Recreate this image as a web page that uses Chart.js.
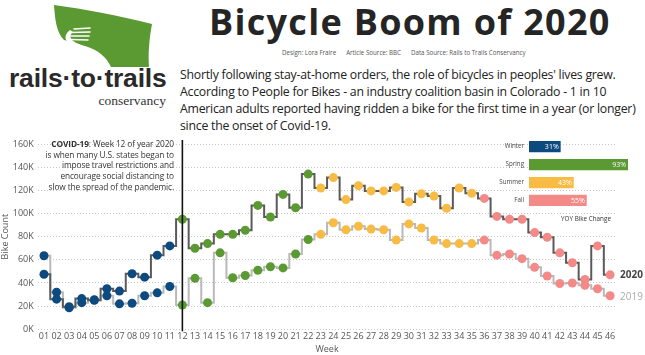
<!DOCTYPE html>
<html>
<head>
<meta charset="utf-8">
<script src="https://cdn.jsdelivr.net/npm/chart.js@4.4.0/dist/chart.umd.min.js"></script>
<style>
  html,body{margin:0;padding:0;background:#fff;}
  #wrap{position:relative;width:645px;height:355px;overflow:hidden;font-family:"Open Sans",sans-serif;}
  .abs{position:absolute;}
  #title{left:209px;top:0px;white-space:nowrap;font-weight:700;font-size:36px;color:#252525;line-height:44px;letter-spacing:1.3px;}
  #sub{left:282px;top:48px;white-space:nowrap;font-size:6.2px;color:#555;}
  #sub span{margin-right:10px;}
  #para{left:180px;top:66px;white-space:nowrap;font-size:12.3px;line-height:17px;color:#222;letter-spacing:-0.25px;}
  #covid{left:20px;width:154px;top:139px;text-align:right;font-size:8.3px;line-height:10.7px;color:#333;letter-spacing:-0.1px;}
  #yoy{left:546px;width:80px;top:214px;text-align:center;font-size:6.3px;color:#333;}
</style>
</head>
<body>
<div id="wrap">
  <svg class="abs" style="left:0;top:0" width="180" height="125" viewBox="0 0 180 125">
    <path d="M54,5 C85,9 120,16 152,24 C149,40 148,55 149,67 L106,67 C99,53 84,44 64,40 C56,32 55,18 54,5 Z" fill="#5b9a32"/>
    <path d="M70,30 C60,38 68,46 82,49 C96,53 102,60 104,67 L111,67 C107,58 99,50 85,46 C74,43 66,38 73,32 Z" fill="#fff"/>
    <g stroke="#fff" stroke-width="1.6" stroke-linecap="round">
      <line x1="74" y1="29" x2="90" y2="28"/>
      <line x1="71" y1="32.5" x2="90" y2="32"/>
      <line x1="70" y1="36" x2="89" y2="36"/>
      <line x1="71" y1="39.5" x2="88" y2="40"/>
    </g>
    <text x="9" y="87" font-family="Liberation Sans, Arial, sans-serif" font-weight="700" font-size="26.5" fill="#2a2a2a" letter-spacing="-0.2">rails·to·trails</text>
    <text x="166" y="105" text-anchor="end" font-family="Liberation Serif, serif" font-size="13.5" fill="#333">conservancy</text>
  </svg>
  <div id="title" class="abs">Bicycle Boom of 2020</div>
  <div id="sub" class="abs"><span>Design: Lora Fraire</span><span>Article Source: BBC</span>Data Source: Rails to Trails Conservancy</div>
  <div id="para" class="abs">Shortly following stay-at-home orders, the role of bicycles in peoples' lives grew.<br>According to People for Bikes - an industry coalition basin in Colorado - 1 in 10<br>American adults reported having ridden a bike for the first time in a year (or longer)<br>since the onset of Covid-19.</div>
  <canvas id="main" class="abs" style="left:0;top:125px" width="645" height="230"></canvas>
  <div id="covid" class="abs"><b>COVID-19</b>: Week 12 of year 2020<br>is when many U.S. states began to<br>impose travel restrictions and<br>encourage social distancing to<br>slow the spread of the pandemic.</div>
  <canvas id="inset" class="abs" style="left:470px;top:130px" width="175" height="90"></canvas>
  <div id="yoy" class="abs">YOY Bike Change</div>
</div>
<script>
// ---- data ----
const weeks = ['01','02','03','04','05','06','07','08','09','10','11','12','13','14','15','16','17','18','19','20','21','22','23','24','25','26','27','28','29','30','31','32','33','34','35','36','37','38','39','40','41','42','43','44','45','46'];
const bikes2020 = [47500,26000,19500,26500,25000,35000,33000,48000,45000,64000,72000,95000,70000,74000,82000,82000,85500,107000,97000,116500,105000,134000,122000,131000,112000,124000,119500,119500,122500,110000,117000,115000,104500,122000,117500,113000,97500,95000,95000,83500,79500,66000,57500,43000,72000,47000];
const bikes2019 = [63500,32000,18500,23000,25500,29000,22000,22500,29000,31500,37000,21000,44000,23000,66000,44500,46500,51000,54000,53000,65000,77500,82000,92000,86000,89000,86500,86000,77000,91000,87500,77000,74000,74000,74000,77000,64000,65000,61000,53500,46000,39500,40000,38000,35000,29000];
const seasons = ['Winter','Spring','Summer','Fall'];
const seasonStartWeek = [1,12,23,36];
const yoyChange = [31,93,43,55];
const covidWeek = '12';
const yTicks = [0,20000,40000,60000,80000,100000,120000,140000,160000];

// ---- styles ----
const seasonColors = ['#0d4a80','#5b9a32','#f8bb43','#f48a88'];
const FONT = '"Open Sans", sans-serif';
function seasonIndex(w){ let s=0; for(let i=0;i<seasonStartWeek.length;i++){ if(w>=seasonStartWeek[i]) s=i; } return s; }
const pointColors = weeks.map(w => seasonColors[seasonIndex(parseInt(w,10))]);

const overlay = {
  id:'overlay',
  afterDatasetsDraw(chart){
    const {ctx, chartArea, scales:{x}} = chart;
    const cx = x.getPixelForValue(weeks.indexOf(covidWeek));
    ctx.save();
    ctx.strokeStyle = '#111'; ctx.lineWidth = 1.6;
    ctx.beginPath(); ctx.moveTo(cx, chartArea.top - 4); ctx.lineTo(cx, chartArea.bottom + 2); ctx.stroke();
    const m0 = chart.getDatasetMeta(0).data, m1 = chart.getDatasetMeta(1).data;
    const p0 = m0[m0.length-1], p1 = m1[m1.length-1];
    ctx.textBaseline = 'middle'; ctx.textAlign = 'left';
    ctx.font = 'bold 10px ' + FONT; ctx.fillStyle = '#444';
    ctx.fillText(chart.data.datasets[0].label, p0.x + 10, p0.y);
    ctx.font = '10px ' + FONT; ctx.fillStyle = '#aaa';
    ctx.fillText(chart.data.datasets[1].label, p1.x + 10, p1.y + 1);
    ctx.restore();
  }
};

new Chart(document.getElementById('main'), {
  type:'line',
  data:{
    labels: weeks,
    datasets:[
      {label:'2020', data:bikes2020, stepped:'middle', borderColor:'#5a5a5a', borderWidth:2,
       pointRadius:4.5, pointBackgroundColor:pointColors, pointBorderColor:pointColors, pointBorderWidth:0},
      {label:'2019', data:bikes2019, stepped:'middle', borderColor:'#b9b9b9', borderWidth:2,
       pointRadius:4.5, pointBackgroundColor:pointColors, pointBorderColor:pointColors, pointBorderWidth:0}
    ]
  },
  options:{
    responsive:false, animation:false, devicePixelRatio:1,
    layout:{padding:{top:19, right:28.6, left:0, bottom:0}},
    plugins:{legend:{display:false}, tooltip:{enabled:false}},
    scales:{
      x:{
        offset:true,
        grid:{display:false, drawTicks:false},
        border:{display:false},
        ticks:{color:'#555', font:{family:FONT, size:9}, padding:2, maxRotation:0, autoSkip:false},
        title:{display:true, text:'Week', color:'#555', font:{family:FONT, size:9}, padding:{top:0,bottom:0}},
        afterFit(s){ s.height = 25.7; }
      },
      y:{
        min:0, max:160000,
        afterBuildTicks(s){ s.ticks = yTicks.map(v => ({value:v})); },
        grid:{color:'#c8c8c8', lineWidth:1, drawTicks:false},
        border:{display:false, dash:[1,2]},
        ticks:{color:'#555', font:{family:FONT, size:9}, padding:4, callback:v => (v/1000)+'K'},
        title:{display:true, text:'Bike Count', color:'#555', font:{family:FONT, size:9}, padding:{top:0,bottom:0}},
        afterFit(s){ s.width = 37.7; }
      }
    }
  },
  plugins:[overlay]
});

const barLabels = {
  id:'barLabels',
  afterDatasetsDraw(chart){
    const {ctx} = chart;
    const ds = chart.data.datasets[0];
    ctx.save();
    ctx.font = '7px ' + FONT; ctx.fillStyle = '#fff';
    ctx.textAlign = 'right'; ctx.textBaseline = 'middle';
    chart.getDatasetMeta(0).data.forEach((b,i) => {
      ctx.fillText(ds.data[i] + '%', b.x - 3, b.y + 0.5);
    });
    ctx.restore();
  }
};

new Chart(document.getElementById('inset'), {
  type:'bar',
  data:{
    labels: seasons,
    datasets:[{data:yoyChange, backgroundColor:seasonColors, borderColor:'rgba(255,255,255,0.35)', borderWidth:1, borderSkipped:false,
      categoryPercentage:1, barPercentage:0.74}]
  },
  options:{
    indexAxis:'y', responsive:false, animation:false, devicePixelRatio:1,
    layout:{padding:{top:6.6, right:8.4, left:0, bottom:10.6}},
    plugins:{legend:{display:false}, tooltip:{enabled:false}},
    scales:{
      x:{display:false, min:0, max:100},
      y:{
        grid:{display:false, drawTicks:false}, border:{display:false},
        ticks:{color:'#444', font:{family:FONT, size:6.2}, padding:4},
        afterFit(s){ s.width = 58; }
      }
    }
  },
  plugins:[barLabels]
});
</script>
</body>
</html>
